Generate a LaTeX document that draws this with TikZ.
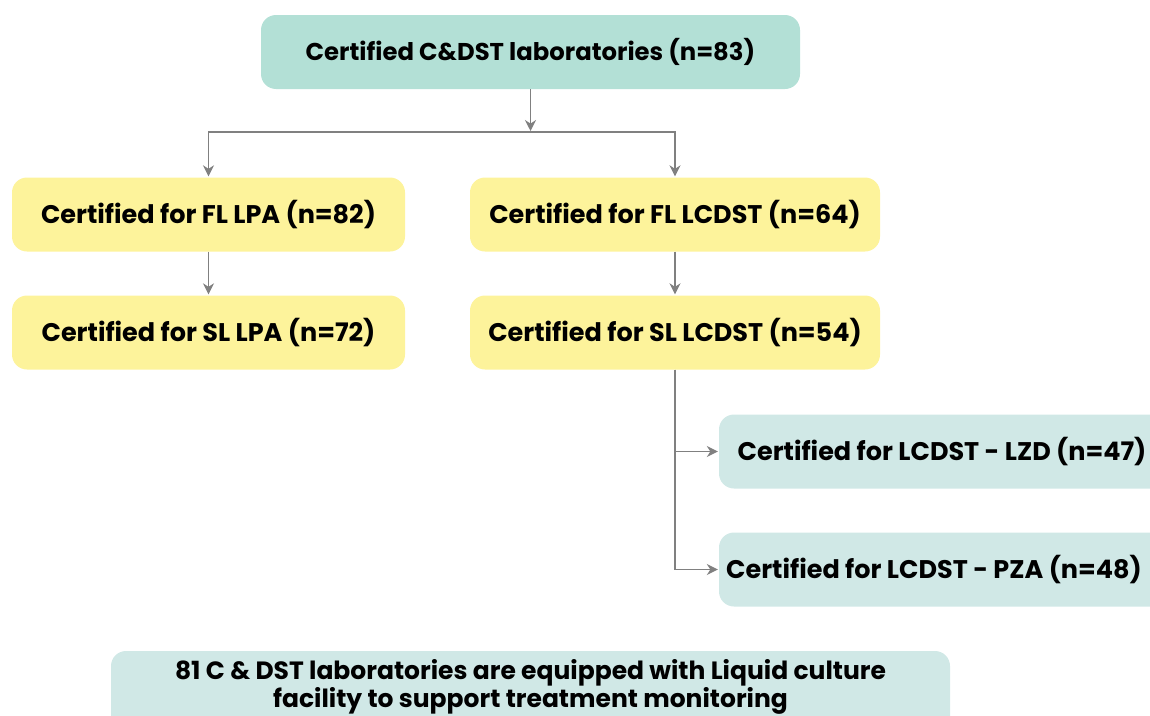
\documentclass[tikz,border=0pt]{standalone}
\usepackage{fontspec}
\setmainfont{Poppins}
\usetikzlibrary{arrows.meta}
\definecolor{mint}{HTML}{B3E0D6}
\definecolor{pyellow}{HTML}{FDF39B}
\definecolor{lteal}{HTML}{D0E8E6}
\definecolor{agray}{HTML}{808080}
\tikzset{
  box/.style={rounded corners=15pt, minimum height=74pt, inner sep=0pt, font=\fontsize{25.5}{28}\selectfont\bfseries, text=black},
  topbox/.style={box, fill=mint, minimum width=539pt, font=\fontsize{24.3}{28}\selectfont\bfseries},
  ybox/.style={box, fill=pyellow},
  tbox/.style={box, fill=lteal, minimum width=446pt},
  arr/.style={draw=agray, line width=1.4pt, -{Stealth[length=11pt,width=11pt]}, shorten >=1pt},
}
\begin{document}
\begin{tikzpicture}[x=1pt,y=1pt]
\useasboundingbox (0,0) rectangle (1150,-715);
\clip (0,0) rectangle (1150,-715);
\node[topbox] (top) at (530.5,-52) {Certified C\&DST laboratories (n=83)};
\node[ybox, minimum width=393pt] (fllpa) at (208.5,-214.5) {Certified for FL LPA (n=82)};
\node[ybox, minimum width=410pt] (fllcdst) at (675,-214.5) {Certified for FL LCDST (n=64)};
\node[ybox, minimum width=393pt] (sllpa) at (208.5,-332.5) {Certified for SL LPA (n=72)};
\node[ybox, minimum width=410pt] (sllcdst) at (675,-332.5) {Certified for SL LCDST (n=54)};
\node[tbox] (lzd) at (942,-451.5) {Certified for LCDST - LZD (n=47)};
\node[tbox] (pza) at (942,-569.5) {Certified for LCDST - PZA (n=48)\hspace*{16pt}};
\node[box, fill=lteal, minimum width=839pt, minimum height=100pt, align=center, font=\fontsize{25}{28}\selectfont\bfseries] (note) at (530.5,-701)
  {81 C \& DST laboratories are equipped with Liquid culture\\
   facility to support treatment monitoring\rule[-36pt]{0pt}{0pt}};
\coordinate (j) at (530.5,-132);
\draw[arr] (top.south) -- (j);
\draw[arr] (j) -| (fllpa.north);
\draw[arr] (j) -| (fllcdst.north);
\draw[arr] (fllpa) -- (sllpa);
\draw[arr] (fllcdst) -- (sllcdst);
\draw[arr] (sllcdst.south) |- (lzd.west);
\draw[arr] (sllcdst.south) |- (pza.west);
\end{tikzpicture}
\end{document}
